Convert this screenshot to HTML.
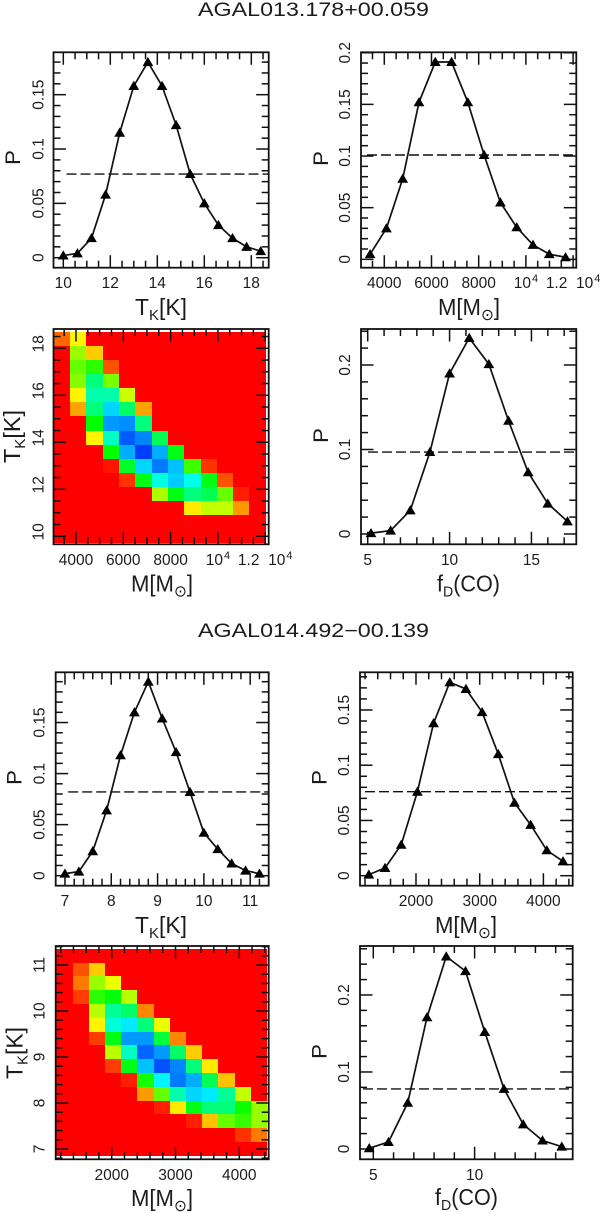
<!DOCTYPE html>
<html lang="en">
<head>
<meta charset="utf-8">
<title>AGAL probability distributions</title>
<style>
html,body{margin:0;padding:0;background:#fff;width:600px;height:1213px;overflow:hidden}
svg{display:block}
text{font-family:"Liberation Sans","DejaVu Sans",sans-serif;fill:#1c1c1c}
</style>
</head>
<body>
<svg id="chart" xmlns="http://www.w3.org/2000/svg" width="600" height="1213" viewBox="0 0 600 1213"></svg>
<script>
// ---------- data: source AGAL013.178+00.059 ----------
const tkA = [10,10.6,11.2,11.8,12.4,13,13.6,14.2,14.8,15.4,16,16.6,17.2,17.8,18.4];
const pTkA = [0.002,0.004,0.018,0.058,0.115,0.158,0.18,0.158,0.122,0.077,0.05,0.03,0.018,0.01,0.006];
const thrTkA = 0.077;
const massA = [3400,4090,4780,5470,6160,6850,7540,8230,8920,9610,10300,10990,11680];
const pMassA = [0.005,0.03,0.078,0.152,0.191,0.191,0.152,0.101,0.055,0.031,0.014,0.005,0.002];
const thrMassA = 0.101;
const fdA = [5.2,6.4,7.6,8.8,10,11.2,12.4,13.6,14.8,16,17.2];
const pFdA = [0.001,0.004,0.028,0.097,0.19,0.232,0.201,0.134,0.073,0.036,0.015];
const thrFdA = 0.097;
const tkRowsA = [18.4,17.8,17.2,16.6,16,15.4,14.8,14.2,13.6,13,12.4,11.8,11.2,10.6,10];
const heatA = [
[10,24,0,0,0,0,0,0,0,0,0,0,0],
[0,35,20,0,0,0,0,0,0,0,0,0,0],
[0,40,46,8,0,0,0,0,0,0,0,0,0],
[0,37,62,38,0,0,0,0,0,0,0,0,0],
[0,24,67,67,30,0,0,0,0,0,0,0,0],
[0,16,62,79,60,16,0,0,0,0,0,0,0],
[0,0,50,85,86,62,0,0,0,0,0,0,0],
[0,0,24,69,91,87,58,0,0,0,0,0,0],
[0,0,0,50,83,94,83,52,0,0,0,0,0],
[0,0,0,2,54,79,88,81,44,5,0,0,0],
[0,0,0,0,5,52,72,80,73,52,8,0,0],
[0,0,0,0,0,0,33,52,62,58,40,3,0],
[0,0,0,0,0,0,0,0,23,31,31,15,0],
[0,0,0,0,0,0,0,0,0,0,0,0,0],
[0,0,0,0,0,0,0,0,0,0,0,0,0]
];
// ---------- data: source AGAL014.492-00.139 ----------
const tkB = [7,7.3,7.6,7.9,8.2,8.5,8.8,9.1,9.4,9.7,10,10.3,10.6,10.9,11.2];
const pTkB = [0.002,0.004,0.024,0.064,0.118,0.16,0.19,0.154,0.121,0.082,0.042,0.026,0.012,0.005,0.002];
const thrTkB = 0.082;
const massB = [1260,1514,1768,2022,2276,2530,2784,3038,3292,3546,3800,4054,4308];
const pMassB = [0.001,0.007,0.028,0.076,0.138,0.175,0.169,0.148,0.11,0.066,0.046,0.023,0.013];
const thrMassB = 0.076;
const fdB = [4.8,5.75,6.7,7.65,8.6,9.55,10.5,11.45,12.4,13.35,14.3];
const pFdB = [0.001,0.009,0.06,0.171,0.25,0.231,0.152,0.078,0.032,0.011,0.003];
const thrFdB = 0.078;
const tkRowsB = [11.2,10.9,10.6,10.3,10,9.7,9.4,9.1,8.8,8.5,8.2,7.9,7.6,7.3,7];
const heatB = [
[0,0,0,0,0,0,0,0,0,0,0,0,0],
[0,8,20,0,0,0,0,0,0,0,0,0,0],
[0,12,35,27,0,0,0,0,0,0,0,0,0],
[0,6,46,51,32,0,0,0,0,0,0,0,0],
[0,0,32,65,60,13,0,0,0,0,0,0,0],
[0,0,24,71,77,62,27,0,0,0,0,0,0],
[0,0,6,52,85,85,56,13,0,0,0,0,0],
[0,0,0,32,69,90,85,60,20,0,0,0,0],
[0,0,0,6,52,81,92,87,62,23,0,0,0],
[0,0,0,0,3,48,76,88,83,58,19,0,0],
[0,0,0,0,0,15,40,67,79,77,65,31,0],
[0,0,0,0,0,0,3,23,52,62,62,49,35],
[0,0,0,0,0,0,0,0,3,19,40,45,35],
[0,0,0,0,0,0,0,0,0,0,0,5,12],
[0,0,0,0,0,0,0,0,0,0,0,0,0]
];
// ---------- tick labels ----------
const ticksTkA = ['10','12','14','16','18'];
const ticksMassX = ['4000','6000','8000','10^4','1.2  10^4'];
const valuesMassX = [4000,6000,8000,10000,12000];
const ticksFdA = ['5','10','15'];
const ticksTkB = ['7','8','9','10','11'];
const ticksMassB = ['2000','3000','4000'];
const ticksFdB = ['5','10'];
const ticksP05 = ['0','0.05','0.1','0.15'];
const ticksP05b = ['0','0.05','0.1','0.15','0.2'];
const ticksP1 = ['0','0.1','0.2'];

const NS = 'http://www.w3.org/2000/svg';
const svg = document.getElementById('chart');
function mk(tag, parent){ const e = document.createElementNS(NS, tag); (parent||svg).appendChild(e); return e; }
function line(parent,x1,y1,x2,y2,w){
  const l = mk('line',parent);
  l.setAttribute('x1',x1); l.setAttribute('y1',y1); l.setAttribute('x2',x2); l.setAttribute('y2',y2);
  l.setAttribute('stroke','#111'); l.setAttribute('stroke-width',w);
  return l;
}
function scales(p){
  p.X = v => p.left + (v-p.xMin)/(p.xMax-p.xMin)*(p.right-p.left);
  p.Y = v => p.bottom - (v-p.yMin)/(p.yMax-p.yMin)*(p.bottom-p.top);
}
function labelText(t, s){
  const parts = s.split('^');
  t.textContent = parts[0];
  if(parts[1]){
    const sup = mk('tspan',t);
    sup.setAttribute('font-size','11');
    sup.setAttribute('dy','-6');
    sup.setAttribute('dx','1');
    sup.textContent = parts[1];
  }
}
function axes(p, g){
  const a = mk('g',g);
  
  
  // x ticks
  const xs = p.xVals;
  const dx = (xs[1]-xs[0])/p.xSub;
  let k0 = Math.ceil((p.xMin-xs[0])/dx-1e-9);
  for(let k=k0; xs[0]+k*dx<=p.xMax+1e-9; k++){
    const v = xs[0]+k*dx, x = p.X(v), len = ((k%p.xSub)+p.xSub)%p.xSub===0 ? 12.5 : 7;
    const t1 = line(a,x,p.bottom,x,p.bottom-len,1.5);
    
    
    const t2 = line(a,x,p.top,x,p.top+len,1.5);
    
    
  }
  // y ticks
  const ys = p.yVals;
  const dy = (ys[1]-ys[0])/p.ySub;
  k0 = Math.ceil((p.yMin-ys[0])/dy-1e-9);
  for(let k=k0; ys[0]+k*dy<=p.yMax+1e-9; k++){
    const v = ys[0]+k*dy, y = p.Y(v), len = ((k%p.ySub)+p.ySub)%p.ySub===0 ? 12.5 : 7;
    const t1 = line(a,p.left,y,p.left+len,y,1.5);
    
    
    const t2 = line(a,p.right,y,p.right-len,y,1.5);
    
    
  }
  // frame
  const fr = mk('rect',a);
  fr.setAttribute('x',p.left); fr.setAttribute('y',p.top);
  fr.setAttribute('width',p.right-p.left); fr.setAttribute('height',p.bottom-p.top);
  fr.setAttribute('fill','none'); fr.setAttribute('stroke','#111'); fr.setAttribute('stroke-width','1.8');
  
  
  // x tick labels
  p.xLabels.forEach((s,i)=>{
    const t = mk('text',a);
    t.setAttribute('x',p.X(p.xVals[i]));
    t.setAttribute('y',p.bottom+20.5);
    t.setAttribute('font-size','15.5');
    t.setAttribute('text-anchor','middle');
    
    
    t.setAttribute('xml:space','preserve');
    t.style.whiteSpace = 'pre';
    labelText(t,s);
  });
  // y tick labels
  p.yLabels.forEach((s,i)=>{
    const t = mk('text',a);
    const y = p.Y(p.yVals[i]) + (p.yLabelShift||0);
    t.setAttribute('transform','translate('+p.yLabelX+','+y+') rotate(-90)');
    t.setAttribute('font-size','15.5');
    t.setAttribute('text-anchor','middle');
    
    
    t.textContent = s;
  });
}
function title(parent, kind, x, y, len, rotate, name){
  const t = mk('text',parent);
  t.setAttribute('font-size',kind==='P'?'21':'23');
  t.setAttribute('textLength',len);
  t.setAttribute('lengthAdjust','spacingAndGlyphs');
  if(rotate) t.setAttribute('transform','translate('+x+','+y+') rotate(-90)');
  else { t.setAttribute('x',x); t.setAttribute('y',y); }
  
  
  const sub = (s,size) => { const a = mk('tspan',t); a.setAttribute('font-size',size||15); a.setAttribute('dy','5'); a.textContent = s;
    const b = mk('tspan',t); b.setAttribute('dy','-5'); return b; };
  if(kind==='T'){ t.appendChild(document.createTextNode('T')); sub('K').textContent='[K]'; }
  if(kind==='M'){ t.appendChild(document.createTextNode('M[M')); sub('\u2299',16).textContent=']'; }
  if(kind==='F'){ t.appendChild(document.createTextNode('f')); sub('D').textContent='(CO)'; }
  if(kind==='P'){ t.textContent='P'; }
}
function curve(p, g, xs, ys, thr){
  const d = mk('line',g);
  d.setAttribute('x1',p.left+p.dashStart); d.setAttribute('x2',p.right);
  d.setAttribute('y1',p.Y(thr)); d.setAttribute('y2',p.Y(thr));
  d.setAttribute('stroke','#111'); d.setAttribute('stroke-width','1.4');
  d.setAttribute('stroke-dasharray','10 4');
  
  
  const pl = mk('polyline',g);
  pl.setAttribute('points',xs.map((v,i)=>p.X(v).toFixed(2)+','+p.Y(ys[i]).toFixed(2)).join(' '));
  pl.setAttribute('fill','none'); pl.setAttribute('stroke','#111'); pl.setAttribute('stroke-width','1.7');
  
  
  xs.forEach((v,i)=>{
    const cx = p.X(v), cy = p.Y(ys[i]);
    const tr = mk('polygon',g);
    tr.setAttribute('points',[[cx,cy-5.2],[cx+5.4,cy+4],[cx-5.4,cy+4]].map(q=>q[0].toFixed(2)+','+q[1].toFixed(2)).join(' '));
    tr.setAttribute('fill','#000');
    
    
  });
}
function heat(p, g, xs, ys, matrix){
  const sx = (xs[1]-xs[0])/2, sy = (ys[0]-ys[1])/2;
  matrix.forEach((row,r)=>row.forEach((val,c)=>{
    const x0 = Math.round(p.X(xs[c]-sx)), x1 = Math.round(p.X(xs[c]+sx));
    const y0 = Math.round(p.Y(ys[r]+sy)), y1 = Math.round(p.Y(ys[r]-sy));
    const cell = mk('rect',g);
    cell.setAttribute('x',x0); cell.setAttribute('y',y0);
    cell.setAttribute('width',x1-x0); cell.setAttribute('height',y1-y0);
    cell.setAttribute('fill','hsl('+(val*2.4)+',100%,50%)');
    cell.setAttribute('shape-rendering','crispEdges');
    
    
  }));
}
function headline(text, y, name){
  const t = mk('text');
  t.setAttribute('x','198'); t.setAttribute('y',y);
  t.setAttribute('font-size','19.5');
  t.setAttribute('textLength','231');
  t.setAttribute('lengthAdjust','spacingAndGlyphs');
  
  
  t.textContent = text;
}
function panel(cfg, name){
  scales(cfg);
  const g = mk('g');
  
  
  return g;
}

headline('AGAL013.178+00.059', 16, 'source-title-agal013');
headline('AGAL014.492\u221200.139', 637, 'source-title-agal014');

// ---------- panel 1 ----------
let p = {left:53.5,right:268.7,top:52.3,bottom:267.7,xMin:9.583,xMax:18.74,yMin:-0.0092,yMax:0.189,
  xVals:[10,12,14,16,18],xLabels:ticksTkA,xSub:4,yVals:[0,0.05,0.1,0.15],yLabels:ticksP05,ySub:5,yLabelX:43.3,dashStart:13};
let g = panel(p,'panel-tk-agal013');
axes(p,g); curve(p,g,tkA,pTkA,thrTkA);
title(g,'T',135,315,52,false,'x-axis-title');
title(g,'P',20,165,15,true,'y-axis-title');

// ---------- panel 2 ----------
p = {left:361,right:576.3,top:52.3,bottom:267.7,xMin:3013,xMax:12136,yMin:-0.0081,yMax:0.2004,
  xVals:valuesMassX,xLabels:ticksMassX,xSub:4,yVals:[0,0.05,0.1,0.15,0.2],yLabels:ticksP05b,ySub:5,yLabelX:350,dashStart:6};
g = panel(p,'panel-mass-agal013');
axes(p,g); curve(p,g,massA,pMassA,thrMassA);
title(g,'M',438,315,62,false,'x-axis-title');
title(g,'P',328,166,15,true,'y-axis-title');

// ---------- panel 3 (heatmap) ----------
p = {left:53.5,right:268.7,top:329,bottom:544.3,xMin:3049,xMax:12148,yMin:9.66,yMax:18.82,
  xVals:valuesMassX,xLabels:ticksMassX,xSub:4,yVals:[10,12,14,16,18],yLabels:ticksTkA,ySub:4,yLabelX:43.3,yLabelShift:-4.5};
g = panel(p,'panel-heatmap-agal013');
heat(p,g,massA,tkRowsA,heatA); axes(p,g);
title(g,'M',131,591.7,62,false,'x-axis-title');
title(g,'T',20,463,53,true,'y-axis-title');

// ---------- panel 4 ----------
p = {left:361,right:576.3,top:329,bottom:544.3,xMin:4.59,xMax:17.74,yMin:-0.0122,yMax:0.2426,
  xVals:[5,10,15],xLabels:ticksFdA,xSub:5,yVals:[0,0.1,0.2],yLabels:ticksP1,ySub:5,yLabelX:350,dashStart:7};
g = panel(p,'panel-fd-agal013');
axes(p,g); curve(p,g,fdA,pFdA,thrFdA);
title(g,'F',437,591.7,63,false,'x-axis-title');
title(g,'P',328,443,15,true,'y-axis-title');

// ---------- panel 5 ----------
p = {left:55.7,right:268.7,top:672.3,bottom:885.7,xMin:6.8,xMax:11.4,yMin:-0.0098,yMax:0.1992,
  xVals:[7,8,9,10,11],xLabels:ticksTkB,xSub:5,yVals:[0,0.05,0.1,0.15],yLabels:ticksP05,ySub:5,yLabelX:44.5,dashStart:12.5};
g = panel(p,'panel-tk-agal014');
axes(p,g); curve(p,g,tkB,pTkB,thrTkB);
title(g,'T',135,933,52,false,'x-axis-title');
title(g,'P',21.7,785,15,true,'y-axis-title');

// ---------- panel 6 ----------
p = {left:360,right:572.7,top:672.3,bottom:885.7,xMin:1121,xMax:4460,yMin:-0.00905,yMax:0.1841,
  xVals:[2000,3000,4000],xLabels:ticksMassB,xSub:5,yVals:[0,0.05,0.1,0.15],yLabels:ticksP05,ySub:5,yLabelX:349,dashStart:5};
g = panel(p,'panel-mass-agal014');
axes(p,g); curve(p,g,massB,pMassB,thrMassB);
title(g,'M',435,933,62,false,'x-axis-title');
title(g,'P',326.7,785,15,true,'y-axis-title');

// ---------- panel 7 (heatmap) ----------
p = {left:55.7,right:268.7,top:946,bottom:1159.3,xMin:1122,xMax:4461,yMin:6.776,yMax:11.413,
  xVals:[2000,3000,4000],xLabels:ticksMassB,xSub:5,yVals:[7,8,9,10,11],yLabels:ticksTkB,ySub:5,yLabelX:44.3};
g = panel(p,'panel-heatmap-agal014');
heat(p,g,massB,tkRowsB,heatB); axes(p,g);
title(g,'M',131,1206,62,false,'x-axis-title');
title(g,'T',22.3,1079,52,true,'y-axis-title');

// ---------- panel 8 ----------
p = {left:360,right:572.7,top:946,bottom:1159.3,xMin:4.344,xMax:14.84,yMin:-0.0134,yMax:0.2636,
  xVals:[5,10],xLabels:ticksFdB,xSub:5,yVals:[0,0.1,0.2],yLabels:ticksP1,ySub:5,yLabelX:349,dashStart:3};
g = panel(p,'panel-fd-agal014');
axes(p,g); curve(p,g,fdB,pFdB,thrFdB);
title(g,'F',435,1205,63,false,'x-axis-title');
title(g,'P',326.7,1059,15,true,'y-axis-title');
</script>
</body>
</html>
